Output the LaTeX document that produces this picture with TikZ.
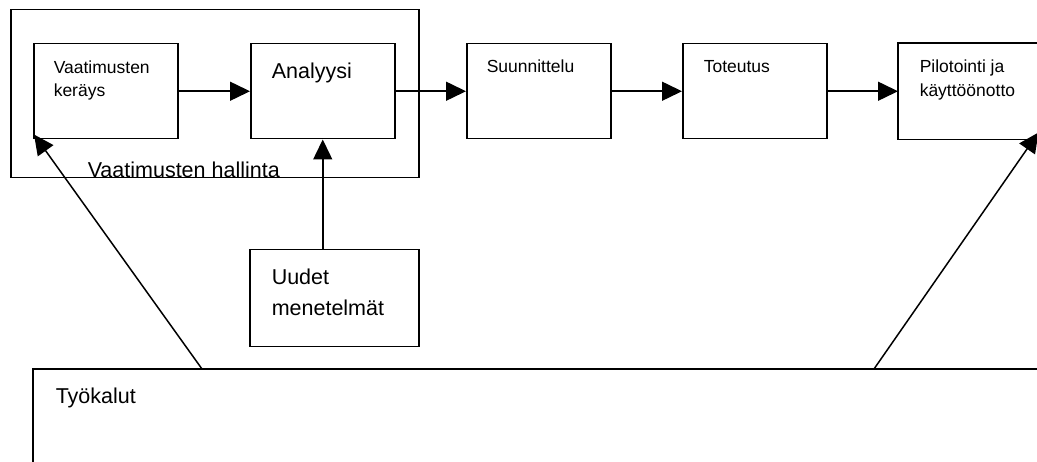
\documentclass[tikz,border=0pt]{standalone}
\usepackage{fontspec}
\setmainfont{Liberation Sans}
\usetikzlibrary{arrows.meta,calc}
\begin{document}
\begin{tikzpicture}[x=1pt,y=-1pt,
  line width=1.5pt,
  stagebox/.style={draw,rectangle,anchor=north west,inner sep=0pt,
    minimum width=#1},
  stagebox/.default=144pt,
  openbox/.style={rectangle,anchor=north west,inner sep=0pt,minimum width=#1},
  smalltxt/.style={anchor=base west,inner sep=0pt,font=\fontsize{17.5}{23}\selectfont},
  bigtxt/.style={anchor=base west,inner sep=0pt,font=\fontsize{21.5}{31}\selectfont},
  flow/.style={-{Triangle[length=20pt,width=19pt]}},
]
\useasboundingbox (0,0) rectangle (1037,462);
\coordinate (pageright) at (1040,0);
\coordinate (pagebottom) at (0,465);

% requirements-management frame
\node[draw,rectangle,anchor=north west,inner sep=0pt,minimum width=408pt,minimum height=168pt] (mgmt) at (10,9) {};

% process stages
\node[stagebox,minimum height=95pt] (req)    at (33,43)  {};
\node[stagebox,minimum height=95pt] (ana)    at (250,43) {};
\node[stagebox,minimum height=95pt] (design) at (466,43) {};
\node[stagebox,minimum height=95pt] (impl)   at (682,43) {};
\node[openbox=144pt,minimum height=95pt] (pilot) at (898,43) {};
\draw (pilot.north west -| pageright) -- (pilot.north west) -- (pilot.south west) -- (pilot.south west -| pageright);

% supporting boxes
\node[stagebox=169pt,minimum height=97pt] (methods) at (249,249) {};
\node[openbox=1100pt,minimum height=93pt] (tools) at (33,369) {};
\draw (tools.north west -| pageright) -- (tools.north west) -- (tools.north west |- pagebottom);

% labels
\node[smalltxt] (treq1) at (53,74) {Vaatimusten};
\node[smalltxt] (treq2) at (53,97) {keräys};
\node[bigtxt]   (tana)  at (271,79) {Analyysi};
\node[smalltxt] (tdes)  at (486,73) {Suunnittelu};
\node[smalltxt] (timp)  at (703,73) {Toteutus};
\node[smalltxt] (tpil1) at (919,73) {Pilotointi ja};
\node[smalltxt] (tpil2) at (919,97) {käyttöönotto};
\node[bigtxt]   (tmet1) at (271,285) {Uudet};
\node[bigtxt]   (tmet2) at (271,316) {menetelmät};
\node[bigtxt]   (ttool) at (55,404) {Työkalut};
\node[bigtxt]   (tmgmt) at (87,178) {Vaatimusten hallinta};

% main flow
\draw[flow] (req.east)    -- (ana.west);
\draw[flow] (ana.east)    -- (design.west);
\draw[flow] (design.east) -- (impl.west);
\draw[flow] (impl.east)   -- (pilot.west);

% methods feed the analysis
\draw[flow] (ana.south |- methods.north) -- (ana.south);

% tools support gathering and deployment
\coordinate (toolsL) at ($(tools.north west)+(169,0)$);
\coordinate (toolsR) at ($(tools.north west)+(841,0)$);
\coordinate (reqtip)   at ($(req.south west)+(1,-5)$);
\coordinate (pilottip) at ($(pilot.south east)+(-5,-7)$);
\draw[flow] (toolsL) -- (reqtip);
\draw[flow] (toolsR) -- (pilottip);
\end{tikzpicture}
\end{document}
